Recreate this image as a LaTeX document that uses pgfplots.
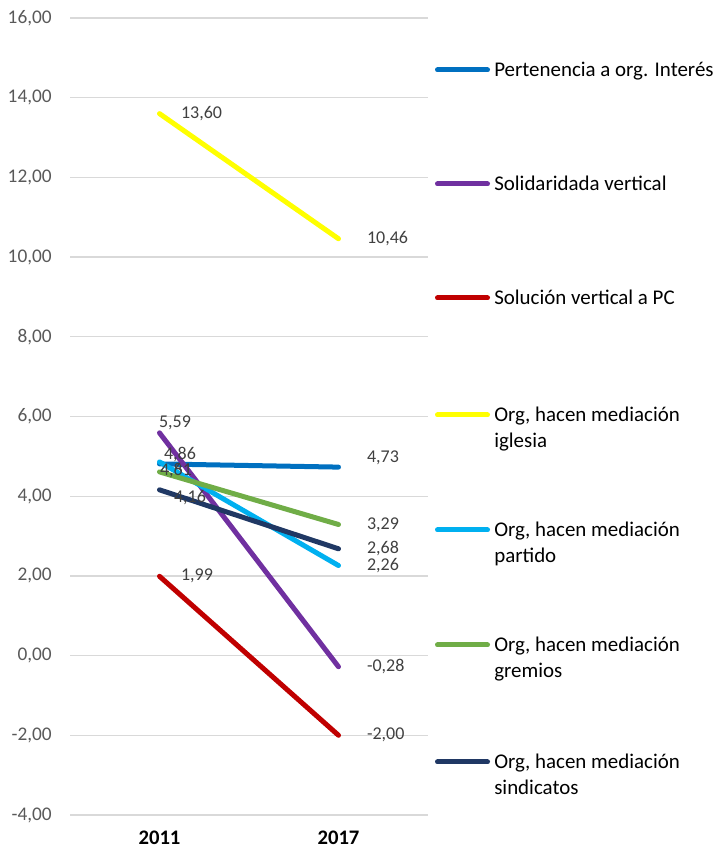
\documentclass[border=0pt]{standalone}
\usepackage{pgfplots}
\pgfplotsset{compat=1.18}
\usepackage{fontspec}
\setmainfont{Carlito}
\definecolor{cPert}{HTML}{0070C0}
\definecolor{cSoli}{HTML}{7030A0}
\definecolor{cSolu}{HTML}{C00000}
\definecolor{cIgle}{HTML}{FFFF00}
\definecolor{cPart}{HTML}{00B0F0}
\definecolor{cGrem}{HTML}{70AD47}
\definecolor{cSind}{HTML}{203864}
\definecolor{gridgray}{HTML}{D9D9D9}
\definecolor{tickgray}{HTML}{595959}
\definecolor{labgray}{HTML}{404040}
\tikzset{lab/.style={font=\fontsize{13.5}{16}\selectfont, text=labgray, inner sep=0pt, anchor=west}}
\begin{document}
\begin{tikzpicture}
\begin{axis}[
  at={(0pt,0pt)}, anchor=south west,
  scale only axis, width=268.5pt, height=597.75pt,
  xmin=-0.5, xmax=1.5, ymin=-4, ymax=16,
  xtick={0,1}, xticklabels={2011,2017},
  ytick={-4,-2,0,2,4,6,8,10,12,14,16},
  ymajorgrids, major grid style={draw=gridgray, line width=1pt},
  axis line style={draw=none},
  major tick length=0pt,
  /pgf/number format/use comma,
  /pgf/number format/fixed,
  /pgf/number format/fixed zerofill,
  /pgf/number format/precision=2,
  /pgf/number format/assume math mode=true,
  yticklabel style={font=\fontsize{14.5}{17}\selectfont, text=tickgray, inner sep=0pt, anchor=east, xshift=-13.5pt},
  xticklabel style={font=\fontsize{15.5}{18}\selectfont\bfseries, text=black, inner sep=0pt, anchor=base, yshift=-21.75pt},
  clip=false,
  every axis plot/.append style={line width=3.75pt, line cap=round},
]
\addplot[cPert] coordinates {(0,4.81) (1,4.73)}
  node[lab, pos=0, xshift=-1.5pt, yshift=-5.25pt] {4,81}
  node[lab, pos=1, xshift=19.5pt, yshift=6.75pt] {4,73};
\addplot[cSoli] coordinates {(0,5.59) (1,-0.28)}
  node[lab, pos=0, xshift=-2.25pt, yshift=7.5pt] {5,59}
  node[lab, pos=1, xshift=19.5pt] {-0,28};
\addplot[cSolu] coordinates {(0,1.99) (1,-2.00)}
  node[lab, pos=0, xshift=14.25pt] {1,99}
  node[lab, pos=1, xshift=19.5pt] {-2,00};
\addplot[cIgle] coordinates {(0,13.60) (1,10.46)}
  node[lab, pos=0, xshift=14.25pt] {13,60}
  node[lab, pos=1, xshift=19.5pt] {10,46};
\addplot[cPart] coordinates {(0,4.86) (1,2.26)}
  node[lab, pos=0, xshift=1.5pt, yshift=5.25pt] {4,86}
  node[lab, pos=1, xshift=19.5pt] {2,26};
\addplot[cGrem] coordinates {(0,4.61) (1,3.29)}
  node[lab, pos=0, xshift=-1.5pt, yshift=0.75pt] {4,61}
  node[lab, pos=1, xshift=19.5pt] {3,29};
\addplot[cSind] coordinates {(0,4.16) (1,2.68)}
  node[lab, pos=0, xshift=9pt, yshift=-6pt] {4,16}
  node[lab, pos=1, xshift=19.5pt] {2,68};
\end{axis}
% legend and page frame, in reference pixels (origin at bottom left)
\begin{scope}[x=0.75pt, y=0.75pt, shift={(-70,-34)}]
\path[use as bounding box] (0,0) rectangle (721,849);
\begin{scope}[every node/.style={font=\fontsize{15.7}{19}\selectfont, text=black, inner sep=0pt, anchor=base west}]
\foreach \c/\y/\a/\b in {cPert/779/Pertenencia a org. Interés/,
                          cSoli/665/Solidaridada vertical/,
                          cSolu/551/Solución vertical a PC/,
                          cIgle/434/{Org, hacen mediación}/iglesia,
                          cPart/319/{Org, hacen mediación}/partido,
                          cGrem/204/{Org, hacen mediación}/gremios,
                          cSind/87/{Org, hacen mediación}/sindicatos}{
  \draw[\c, line width=3.75pt, line cap=round] (437.5,\y) -- (487.5,\y);
  \node at (494,\y-6.5) {\a};
  \node at (494,\y-32.5) {\b};
}
\end{scope}
\end{scope}
\end{tikzpicture}
\end{document}
